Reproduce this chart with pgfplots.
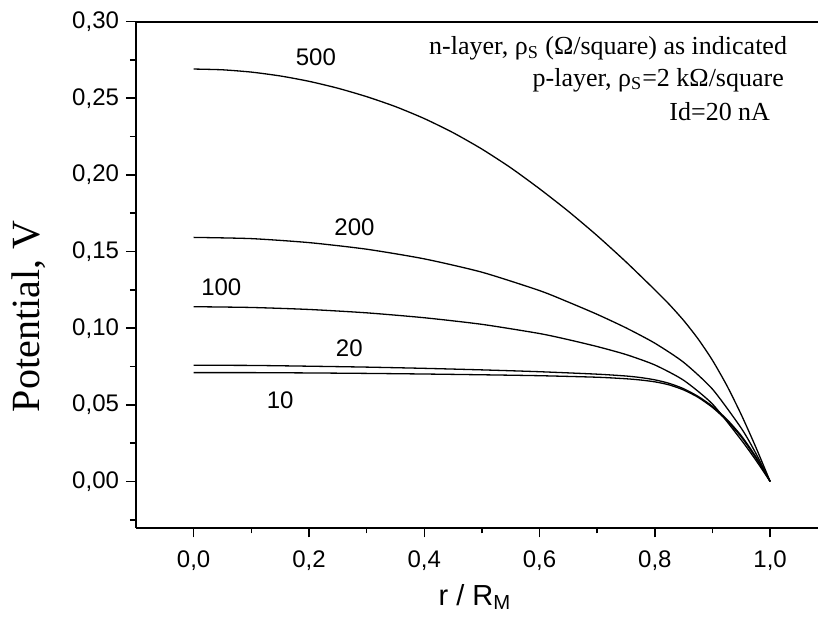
\documentclass[border=0pt]{standalone}
\usepackage{fontspec}
\setmainfont{Liberation Sans}
\newfontfamily\serifrm{Liberation Serif}
\usepackage{pgfplots}
\usepackage{pgfplotstable}
\pgfplotsset{compat=1.18}

% Potential along the mesa radius for several n-layer sheet resistances
\pgfplotstableread{
r V
0.000 0.2690
0.050 0.2685
0.100 0.2670
0.150 0.2645
0.200 0.2610
0.250 0.2565
0.300 0.2510
0.350 0.2445
0.400 0.2367
0.450 0.2275
0.500 0.2168
0.550 0.2046
0.600 0.1909
0.650 0.1762
0.700 0.1603
0.750 0.1432
0.800 0.1250
0.825 0.1155
0.850 0.1050
0.875 0.0930
0.900 0.0790
0.925 0.0625
0.950 0.0435
0.975 0.0225
1.000 0.0000
}\rhoFiveHundred

\pgfplotstableread{
r V
0.000 0.1592
0.100 0.1584
0.200 0.1558
0.300 0.1515
0.400 0.1452
0.500 0.1365
0.600 0.1245
0.650 0.1170
0.700 0.1090
0.750 0.1002
0.800 0.0902
0.850 0.0777
0.900 0.0602
0.950 0.0347
0.975 0.0185
1.000 0.0000
}\rhoTwoHundred

\pgfplotstableread{
r V
0.000 0.1140
0.100 0.1135
0.200 0.1122
0.300 0.1100
0.400 0.1068
0.500 0.1025
0.600 0.0965
0.650 0.0925
0.700 0.0880
0.750 0.0828
0.800 0.0760
0.850 0.0660
0.900 0.0505
0.950 0.0270
0.975 0.0140
1.000 0.0000
}\rhoHundred

\pgfplotstableread{
r V
0.000 0.0758
0.100 0.0757
0.200 0.0752
0.300 0.0746
0.400 0.0738
0.500 0.0728
0.600 0.0716
0.700 0.0700
0.750 0.0688
0.775 0.0678
0.800 0.0663
0.825 0.0640
0.850 0.0605
0.875 0.0555
0.900 0.0490
0.925 0.0405
0.950 0.0298
0.975 0.0163
1.000 0.0000
}\rhoTwenty

\pgfplotstableread{
r V
0.000 0.0710
0.100 0.0710
0.200 0.0708
0.300 0.0705
0.400 0.0701
0.500 0.0696
0.600 0.0690
0.700 0.0680
0.750 0.0670
0.775 0.0662
0.800 0.0650
0.825 0.0630
0.850 0.0597
0.875 0.0549
0.900 0.0483
0.925 0.0397
0.950 0.0290
0.975 0.0155
1.000 0.0000
}\rhoTen

\begin{document}
\begin{tikzpicture}
\useasboundingbox (-68bp,-47.75bp) rectangle (341bp,263.75bp);
\begin{axis}[
  at={(0,0)}, anchor=south west,
  scale only axis, width=341bp, height=253bp,
  xmin=-0.1, xmax=1.083, ymin=-0.03, ymax=0.30,
  axis x line*=bottom, axis y line*=left,
  axis line style={line width=1bp, black},
  tick style={line width=0.75bp, black},
  tick align=outside,
  major tick length=5bp, minor tick length=3bp,
  xtick={0,0.2,0.4,0.6,0.8,1.0},
  minor xtick={0.1,0.3,0.5,0.7,0.9},
  ytick={0,0.05,0.10,0.15,0.20,0.25,0.30},
  minor ytick={-0.025,0.025,0.075,0.125,0.175,0.225,0.275},
  /pgf/number format/.cd, fixed, fixed zerofill, use comma, assume math mode=true,
  /pgfplots/.cd,
  xticklabel style={/pgf/number format/precision=1, font=\fontsize{12bp}{14bp}\selectfont, yshift=-3bp},
  yticklabel style={/pgf/number format/precision=2, font=\fontsize{12bp}{14bp}\selectfont},
  xlabel={r / R\textsubscript{M}},
  xlabel style={font=\fontsize{14.5bp}{17bp}\selectfont, at={(axis description cs:0.497,-0.138)}, anchor=center},
  ylabel={Potential, V},
  ylabel style={font=\serifrm\fontsize{20bp}{22bp}\selectfont, at={(axis description cs:-0.158,0.417)}, anchor=center},
  clip=false,
]
\draw[line width=1bp] (rel axis cs:0,1) -- (rel axis cs:1,1);

\addplot[black, line width=0.65bp, smooth, tension=0.4, no marks] table {\rhoFiveHundred};
\addplot[black, line width=0.65bp, smooth, tension=0.4, no marks] table {\rhoTwoHundred};
\addplot[black, line width=0.65bp, smooth, tension=0.4, no marks] table {\rhoHundred};
\addplot[black, line width=0.65bp, smooth, tension=0.4, no marks] table {\rhoTwenty};
\addplot[black, line width=0.65bp, smooth, tension=0.4, no marks] table {\rhoTen};

\begin{scope}[every node/.style={font=\fontsize{12bp}{14bp}\selectfont}]
\node at (axis cs:0.212,0.277) {500};
\node at (axis cs:0.279,0.166) {200};
\node at (axis cs:0.048,0.127) {100};
\node at (axis cs:0.270,0.087) {20};
\node at (axis cs:0.150,0.053) {10};
\end{scope}

\begin{scope}[every node/.style={anchor=east, font=\serifrm\fontsize{13bp}{15bp}\selectfont}]
\node at (axis cs:1.0415,0.2827) {n-layer, ρ\textsubscript{S} (Ω/square) as indicated};
\node at (axis cs:1.036,0.2619) {p-layer, ρ\textsubscript{S}=2 kΩ/square};
\node at (axis cs:1.012,0.2410) {Id=20 nA};
\end{scope}
\end{axis}
\end{tikzpicture}
\end{document}
